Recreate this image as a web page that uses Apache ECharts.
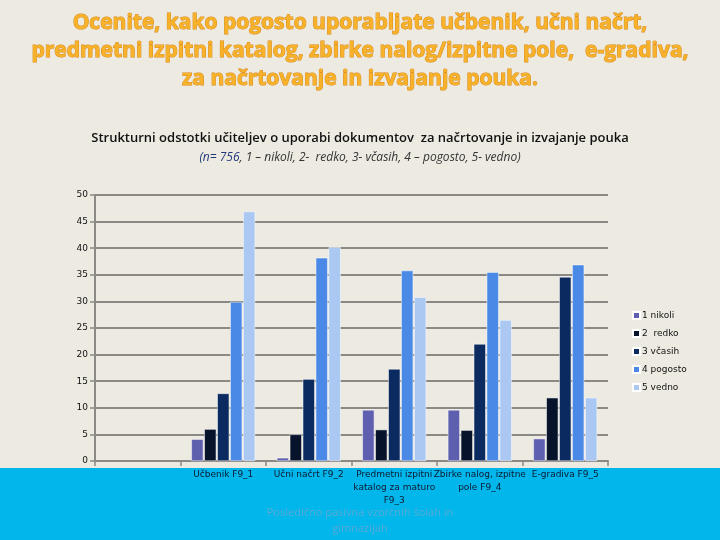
<!DOCTYPE html>
<html><head><meta charset="utf-8">
<script src="https://cdn.jsdelivr.net/npm/echarts@6/dist/echarts.min.js"></script>
<style>html,body{margin:0;padding:0;background:#edeae1}#c{width:720px;height:540px}</style>
</head><body><div id="c"></div>
<script>
const categories = ['', 'Učbenik F9_1', 'Učni načrt F9_2', 'Predmetni izpitni\nkatalog za maturo\nF9_3', 'Zbirke nalog, izpitne\npole F9_4', 'E-gradiva F9_5'];
const seriesNames = ['1 nikoli', '2  redko', '3 včasih', '4 pogosto', '5 vedno'];
const nikoli  = [null, 4.1, 0.6, 9.6, 9.6, 4.2];
const redko   = [null, 6.0, 5.0, 5.9, 5.8, 11.9];
const vcasih  = [null, 12.7, 15.4, 17.3, 22.0, 34.6];
const pogosto = [null, 29.9, 38.2, 35.8, 35.5, 36.9];
const vedno   = [null, 46.9, 40.2, 30.8, 26.5, 11.9];
const yTicks = [0, 5, 10, 15, 20, 25, 30, 35, 40, 45, 50];
const colors = ['#5f5fb0', '#07132a', '#0b2a60', '#4a8ae6', '#aac8f2'];
const values = [nikoli, redko, vcasih, pogosto, vedno];

const chart = echarts.init(document.getElementById('c'));
chart.setOption({
  backgroundColor: '#edeae1',
  animation: false,
  graphic: [
    {type:'rect', shape:{x:0,y:468,width:720,height:72}, style:{fill:'#00b6ea'}, z:-10},
    {type:'text', x:360, y:9, style:{text:'Ocenite, kako pogosto uporabljate učbenik, učni načrt,\npredmetni izpitni katalog, zbirke nalog/izpitne pole,  e-gradiva,\nza načrtovanje in izvajanje pouka.', font:'bold 21px "Open Sans"', fill:'#f7b22a', stroke:'#d98a1c', lineWidth:1, align:'center', verticalAlign:'top', lineHeight:28}},
    {type:'text', x:360, y:132, style:{text:'Strukturni odstotki učiteljev o uporabi dokumentov  za načrtovanje in izvajanje pouka', font:'600 13px "Open Sans"', fill:'#111', align:'center', verticalAlign:'top'}},
    {type:'text', x:360, y:152, style:{text:'{b|(n= 756}{g|, 1 – nikoli, 2-  redko, 3- včasih, 4 – pogosto, 5- vedno)}', align:'center', verticalAlign:'top', rich:{b:{font:'italic 12px "Open Sans"', fill:'#1f3a7a'}, g:{font:'italic 12px "Open Sans"', fill:'#333'}}}},
    {type:'text', x:360, y:505, style:{text:'Posledično pasivna vzorčnih šolah in\ngimnazijah', font:'11px "Open Sans"', fill:'#5aa9d6', lineHeight:16, align:'center', verticalAlign:'top'}}
  ],
  legend: {
    orient:'vertical', left:627, top:306, itemWidth:7, itemHeight:7, itemGap:9,
    data: seriesNames, icon:'rect',
    textStyle:{fontSize:9, fontFamily:'DejaVu Sans', color:'#111', padding:[0,0,0,-3]}
  },
  grid: {left:95, right:112, top:195, bottom:79, containLabel:false},
  xAxis: {
    type:'category', data:categories,
    axisLine:{lineStyle:{color:'#8a8985', width:2}},
    axisTick:{show:true, length:5, lineStyle:{color:'#8a8985', width:1.5}},
    axisLabel:{interval:0, fontSize:9, fontFamily:'DejaVu Sans', color:'#0d1830', lineHeight:13, margin:7}
  },
  yAxis: {
    type:'value', min:0, max:50, interval:5,
    axisLine:{show:true, lineStyle:{color:'#8a8985', width:2}},
    axisTick:{show:true, length:5, lineStyle:{color:'#8a8985', width:1.5}},
    splitLine:{lineStyle:{color:'#8a8985', width:2}},
    axisLabel:{fontSize:9, fontFamily:'DejaVu Sans', color:'#111', margin:7,
      formatter: v => yTicks.includes(v) ? String(v) : ''}
  },
  series: seriesNames.map((n,i)=>({
    name:n, type:'bar', data:values[i], barWidth:12, barGap:'8%',
    itemStyle:{color:colors[i], borderColor:'#ffffff', borderWidth:0.5}
  }))
});
</script></body></html>
